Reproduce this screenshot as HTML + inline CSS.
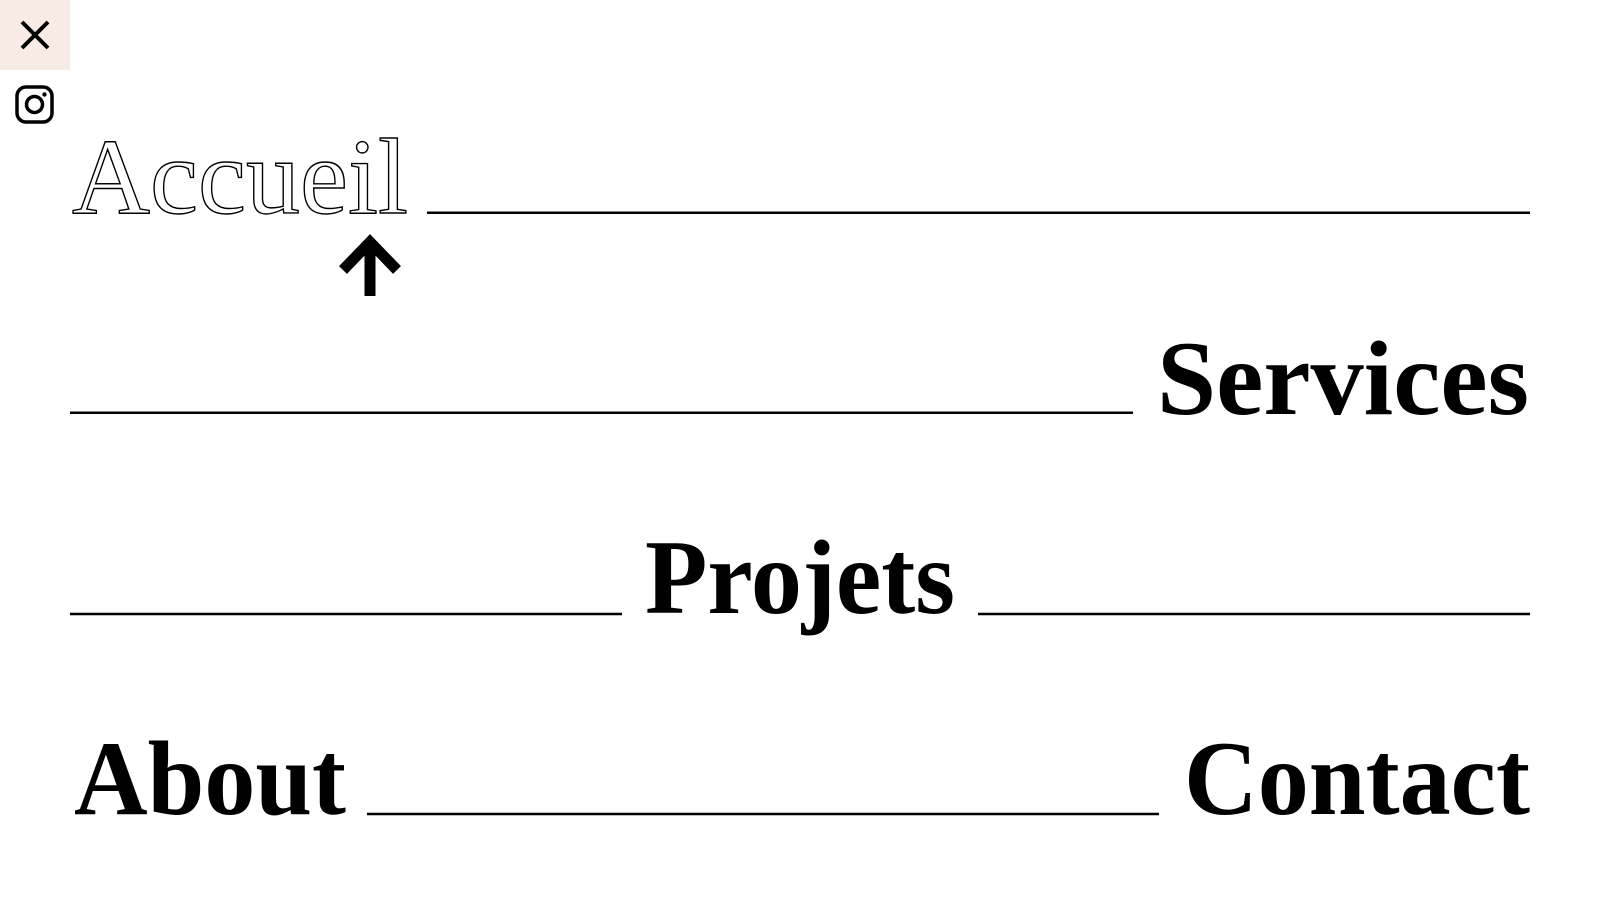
<!DOCTYPE html>
<html><head><meta charset="utf-8"><style>
html,body{margin:0;padding:0;background:#fff;width:1600px;height:900px;overflow:hidden}
svg{display:block}
</style></head><body>
<svg width="1600" height="900" viewBox="0 0 1600 900" xmlns="http://www.w3.org/2000/svg">
<rect x="0" y="0" width="70" height="70" fill="#f8ebe5"/>
<path d="M22 22 L48 48 M48 22 L22 48" stroke="#000" stroke-width="4"/>
<rect x="17" y="87" width="35" height="35" rx="9" fill="none" stroke="#000" stroke-width="3.5"/>
<circle cx="34.5" cy="104.5" r="8" fill="none" stroke="#000" stroke-width="3.5"/>
<circle cx="44.5" cy="94.5" r="2.2" fill="#000"/>
<g font-family="Liberation Serif, serif">
<text x="72" y="213" font-size="108" textLength="336" lengthAdjust="spacingAndGlyphs" fill="none" stroke="#000" stroke-width="1.4">Accueil</text>
<text x="1157" y="414" font-size="106" font-weight="bold" textLength="372" lengthAdjust="spacingAndGlyphs" fill="#000">Services</text>
<text x="645" y="613" font-size="106" font-weight="bold" textLength="310" lengthAdjust="spacingAndGlyphs" fill="#000">Projets</text>
<text x="74" y="814" font-size="106" font-weight="bold" textLength="272" lengthAdjust="spacingAndGlyphs" fill="#000">About</text>
<text x="1184" y="814" font-size="106" font-weight="bold" textLength="346" lengthAdjust="spacingAndGlyphs" fill="#000">Contact</text>
</g>
<g stroke="#000" stroke-width="2.5">
<line x1="427" y1="212.7" x2="1530" y2="212.7"/>
<line x1="70" y1="412.7" x2="1133" y2="412.7"/>
<line x1="70" y1="614" x2="622" y2="614"/>
<line x1="978" y1="614" x2="1530" y2="614"/>
<line x1="367" y1="814" x2="1159" y2="814"/>
</g>
<path d="M370 242 L370 296" stroke="#000" stroke-width="11"/>
<path d="M343 270 L370 242 L397 270" fill="none" stroke="#000" stroke-width="11"/>
</svg>
</body></html>
